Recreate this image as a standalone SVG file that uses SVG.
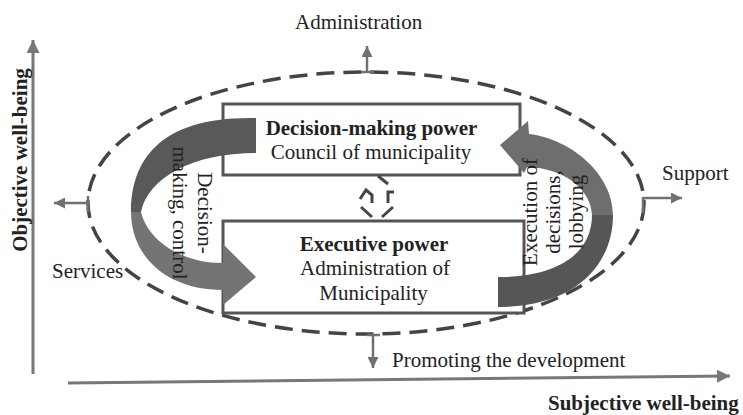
<svg xmlns="http://www.w3.org/2000/svg" width="743" height="415" viewBox="0 0 743 415">
<defs>
<style>
.t{font-family:"Liberation Serif","Times New Roman",serif;font-size:21px;fill:#222}
.b{font-weight:bold}
.box{fill:#fff;stroke:#555;stroke-width:3}
.ax{stroke:#777;stroke-width:3;fill:none}
.tick{stroke:#707070;stroke-width:2.5;fill:none}
.ico{stroke:#444;stroke-width:3;fill:none;stroke-linecap:butt}
</style>
<marker id="ah" viewBox="0 0 10 10" refX="10" refY="5" markerWidth="11" markerHeight="11" markerUnits="userSpaceOnUse" orient="auto">
<path d="M0,0 L10,5 L0,10 z" fill="#707070"/>
</marker>
<marker id="ahBig" viewBox="0 0 10 10" refX="10" refY="5" markerWidth="14" markerHeight="13" markerUnits="userSpaceOnUse" orient="auto">
<path d="M0,0 L10,5 L0,10 z" fill="#777"/>
</marker>
</defs>
<rect width="743" height="415" fill="#fff"/>

<g id="axes">
<line class="ax" x1="33" y1="374" x2="33" y2="40" marker-end="url(#ahBig)"/>
<line class="ax" x1="68" y1="383" x2="730" y2="376" marker-end="url(#ahBig)"/>
<text class="t b" transform="translate(27,160) rotate(-90)" text-anchor="middle">Objective well-being</text>
<text class="t b" x="548" y="410">Subjective well-being</text>
</g>

<g id="boundary">
<ellipse cx="366" cy="203" rx="278" ry="131" fill="none" stroke="#444" stroke-width="3.5" stroke-dasharray="18 9"/>
</g>

<g id="node-decision">
<rect class="box" x="223" y="104" width="297" height="71"/>
<text class="t b" x="371.5" y="135" text-anchor="middle">Decision-making power</text>
<text class="t" x="371" y="159" text-anchor="middle">Council of municipality</text>
</g>

<g id="node-executive">
<rect class="box" x="223" y="221" width="301" height="92"/>
<text class="t b" x="374" y="251" text-anchor="middle">Executive power</text>
<text class="t" x="375" y="275" text-anchor="middle">Administration of</text>
<text class="t" x="373.5" y="300" text-anchor="middle">Municipality</text>
</g>

<g id="connectors">
<g id="arrow-decision-control">
<path d="M256,118 C160,116 131,160 131,212 L141,212 C148,178 192,153 256,153 Z" fill="#595959"/>
<path d="M131,212 C131,255 165,290 223,290 L223,305 L256,277 L223,244 L223,263 C180,263 148,240 141,212 Z" fill="#747474"/>
<text class="t" transform="translate(198,213) rotate(90)" text-anchor="middle"><tspan x="0" y="0">Decision-</tspan><tspan x="0" y="25">making, control</tspan></text>
</g>
<g id="arrow-execution-lobbying">
<path d="M529,134 C572,139 613,175 613,215 L592,215 C591,190 565,168 527,167 L524,173 L500,145 L528,121 Z" fill="#6e6e6e"/>
<path d="M613,215 C613,265 575,307 498,307 L498,277 C560,277 592,252 592,215 Z" fill="#565656"/>
<text class="t" transform="translate(537,212) rotate(-90)" text-anchor="middle"><tspan x="0" y="0">Execution of</tspan><tspan x="0" y="23">decisions,</tspan><tspan x="0" y="46">lobbying</tspan></text>
</g>
<g id="cycle-icon">
<path class="ico" d="M378,176 L388,184"/>
<path class="ico" d="M360,199 L366,190 L372,195 L372,203"/>
<path class="ico" d="M388,203 L388,192 L394,192"/>
<path class="ico" d="M361,207 L372,217"/>
<path class="ico" d="M393,207 L382,217"/>
</g>
<g id="out-administration">
<line class="tick" x1="361" y1="72" x2="374" y2="72"/>
<line class="tick" x1="367" y1="72" x2="367" y2="46" marker-end="url(#ah)"/>
<text class="t" x="295" y="29">Administration</text>
</g>
<g id="out-services">
<line class="tick" x1="88" y1="196" x2="88" y2="212"/>
<line class="tick" x1="88" y1="203" x2="54" y2="203" marker-end="url(#ah)"/>
<text class="t" x="52" y="278">Services</text>
</g>
<g id="out-support">
<line class="tick" x1="643" y1="197" x2="643" y2="213"/>
<line class="tick" x1="643" y1="198" x2="682" y2="198" marker-end="url(#ah)"/>
<text class="t" x="662" y="180">Support</text>
</g>
<g id="out-promoting">
<line class="tick" x1="367" y1="335" x2="380" y2="335"/>
<line class="tick" x1="373" y1="335" x2="373" y2="368" marker-end="url(#ah)"/>
<text class="t" x="392" y="367">Promoting the development</text>
</g>
</g>
</svg>
